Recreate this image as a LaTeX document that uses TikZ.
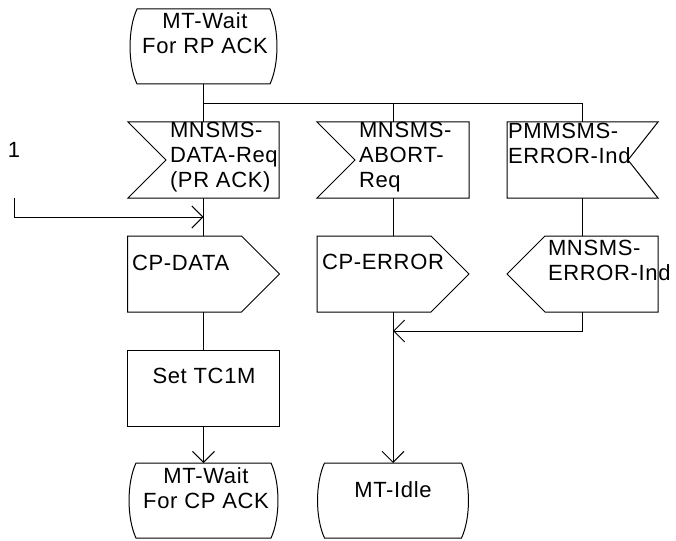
\documentclass[tikz,border=0pt]{standalone}
\usepackage{fontspec}
\setmainfont{Liberation Sans}[LetterSpace=3]
\usetikzlibrary{calc,arrows.meta}
\tikzset{
  box/.style={draw=none, rectangle, inner sep=0pt, outer sep=0pt, minimum height=76pt},
  lbl/.style={inner sep=0pt, outer sep=0pt, font=\fontsize{22}{25}\selectfont, align=left, anchor=north west},
  clbl/.style={lbl, align=center, anchor=north},
  shp/.style={draw=black, line width=1pt, line join=miter},
  con/.style={draw=black, line width=1pt},
  arr/.style={con, -{Straight Barb[length=11pt,width=22pt,line width=1pt]}},
}
\newcommand\mystate[1]{%
  \path[shp] ($(#1.north west)+(7,0)$) -- ($(#1.north east)+(-7,0)$)
    .. controls ($(#1.north east)+(2.3,20)$) and ($(#1.south east)+(2.3,-20)$) .. ($(#1.south east)+(-7,0)$)
    -- ($(#1.south west)+(7,0)$)
    .. controls ($(#1.south west)+(-2.3,-20)$) and ($(#1.north west)+(-2.3,20)$) .. cycle;}
\newcommand\myinputL[1]{%
  \path[shp] (#1.north west) -- (#1.north east) -- (#1.south east) -- (#1.south west) -- ($(#1.west)+(38,0)$) -- cycle;}
\newcommand\myinputR[1]{%
  \path[shp] (#1.north west) -- (#1.north east) -- ($(#1.east)+(-30,0)$) -- (#1.south east) -- (#1.south west) -- cycle;}
\newcommand\myoutputR[1]{%
  \path[shp] (#1.north west) -- ($(#1.north east)+(-38,0)$) -- (#1.east) -- ($(#1.south east)+(-38,0)$) -- (#1.south west) -- cycle;}
\newcommand\myoutputL[1]{%
  \path[shp] (#1.north east) -- ($(#1.north west)+(38,0)$) -- (#1.west) -- ($(#1.south west)+(38,0)$) -- (#1.south east) -- cycle;}
\begin{document}
\begin{tikzpicture}[x=1pt,y=-1pt]
\useasboundingbox (0,0) rectangle (676,540);
% symbol frames
\node[box, minimum width=147pt, minimum height=75pt] (S1) at (203.5,46.5) {};
\node[box, minimum width=151pt] (I1) at (203.5,160) {};
\node[box, minimum width=152pt] (I2) at (393,160) {};
\node[box, minimum width=151pt] (I3) at (582.5,160) {};
\node[box, minimum width=152pt] (O1) at (203.5,274) {};
\node[box, minimum width=152pt] (O2) at (393,274) {};
\node[box, minimum width=151pt] (O3) at (582.5,274) {};
\node[box, minimum width=152pt] (T1) at (203.5,388) {};
\node[box, minimum width=149pt, minimum height=75pt] (S3) at (203.5,500.5) {};
\node[box, minimum width=151pt, minimum height=75pt] (S4) at (393,500.5) {};
\mystate{S1}
\mystate{S3}
\mystate{S4}
\myinputL{I1}
\myinputL{I2}
\myinputR{I3}
\myoutputR{O1}
\myoutputR{O2}
\myoutputL{O3}
\path[shp] (T1.north west) rectangle (T1.south east);
% texts
\node[clbl] (tS1) at (205,13) {MT-Wait\\For RP ACK};
\node[lbl] (tI1) at (170,122) {MNSMS-\\DATA-Req\\(PR ACK)};
\node[lbl] (tI2) at (359,122) {MNSMS-\\ABORT-\\Req};
\node[lbl] (tI3) at (508,123) {PMMSMS-\\ERROR-Ind};
\node[lbl] (tO1) at (132,255) {CP-DATA};
\node[lbl] (tO2) at (322,254) {CP-ERROR};
\node[lbl] (tO3) at (548,240) {MNSMS-\\ERROR-Ind};
\node[clbl] (tT1) at (204,368) {Set TC1M};
\node[clbl] (tS3) at (206,468) {MT-Wait\\For CP ACK};
\node[clbl] (tS4) at (393,482) {MT-Idle};
\node[clbl] (one) at (14,142) {1};
% connectors
\coordinate (br) at (203.5,104);
\coordinate (c1) at (14,198);
\coordinate (j1) at ($(I1.south)!0.5!(O1.north)$);
\coordinate (j2) at (393,331);
\draw[con] (S1.south) -- (I1.north);
\draw[con] (br) -| (I3.north);
\draw[con] (I2.north |- br) -- (I2.north);
\draw[con] (I1.south) -- (O1.north);
\draw[arr] (c1) |- (j1);
\draw[con] (O1.south) -- (T1.north);
\draw[arr] (T1.south) -- (S3.north);
\draw[con] (I2.south) -- (O2.north);
\draw[arr] (O2.south) -- (S4.north);
\draw[con] (I3.south) -- (O3.north);
\draw[arr] (O3.south) |- (j2);
\end{tikzpicture}
\end{document}
